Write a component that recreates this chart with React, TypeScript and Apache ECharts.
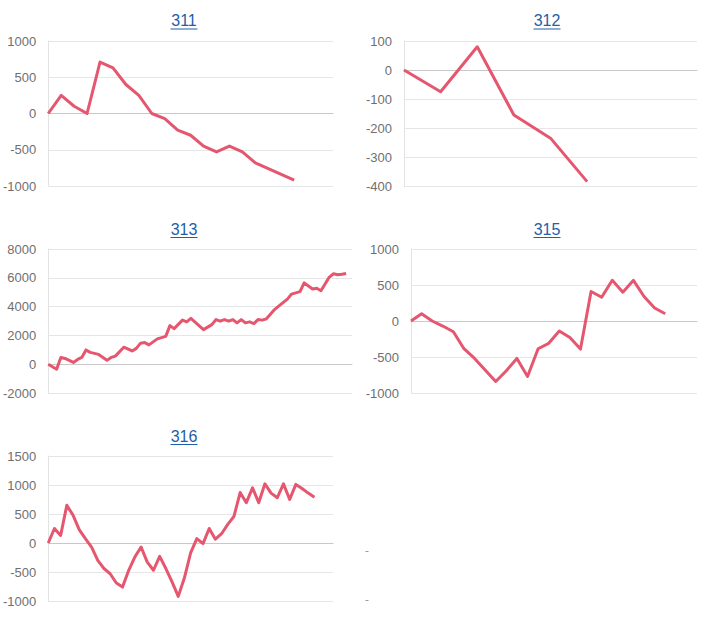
import React, { useEffect, useRef } from 'react';
import * as echarts from 'echarts';

const titles = ['311', '312', '313', '315', '316'];

const s311 = [0, 250, 100, 0, 710, 630, 400, 250, 0, -70, -230, -300, -450, -530, -450, -530, -680, -760, -840, -920];
const s312 = [0, -75, 80, -155, -235, -385];
const x313 = [0, 2, 3, 4, 6, 7, 8, 9, 10, 12, 14, 15, 16, 18, 20, 21, 22, 23, 24, 26, 28, 29, 30, 32, 33, 34, 37, 39, 40, 41, 42, 43, 44, 45, 46, 47, 48, 49, 50, 51, 52, 54, 55, 57, 58, 60, 61, 63, 64, 65, 67, 68, 69, 70, 71];
const y313 = [0, -350, 470, 400, 120, 330, 470, 990, 820, 680, 280, 470, 560, 1180, 920, 1100, 1460, 1500, 1340, 1760, 1930, 2680, 2470, 3060, 2940, 3180, 2400, 2750, 3100, 2990, 3100, 2990, 3100, 2870, 3100, 2870, 2940, 2820, 3100, 3060, 3150, 3810, 4050, 4520, 4870, 5040, 5650, 5220, 5270, 5100, 6050, 6280, 6210, 6240, 6300];
const s315 = [0, 100, 0, -70, -150, -385, -520, -680, -840, -690, -520, -770, -385, -310, -140, -230, -390, 410, 330, 565, 400, 565, 340, 180, 100];
const s316 = [0, 250, 130, 650, 480, 230, 75, -70, -300, -440, -530, -690, -760, -470, -240, -70, -330, -470, -230, -440, -670, -920, -600, -170, 75, -10, 250, 65, 160, 320, 460, 870, 695, 950, 695, 1020, 860, 780, 1020, 750, 1010, 940, 860, 790];

const yMin = [-1000, -400, -2000, -1000, -1000];
const yMax = [1000, 100, 8000, 1000, 1500];
const yStep = [500, 100, 2000, 500, 500];
const xSpan = [22, 8, 72.4, 27, 46];

const LINE = '#e5566f';
const FONT = '"Liberation Sans", Arial, sans-serif';

const toPairs = (vals: number[]) => vals.map((v, i) => [i, v]);

export default function App() {
  const ref = useRef<HTMLDivElement>(null);
  useEffect(() => {
    if (!ref.current) return;
    const chart = echarts.init(ref.current, undefined, { renderer: 'svg' });
    const layout = [
      { left: 48, top: 41, width: 285, height: 145, tx: 184, ty: 20.5 },
      { left: 404, top: 41, width: 293, height: 145, tx: 547, ty: 20.5 },
      { left: 48, top: 249, width: 304, height: 144, tx: 184, ty: 229 },
      { left: 411, top: 249, width: 286, height: 144, tx: 547, ty: 229 },
      { left: 48, top: 456, width: 285, height: 145, tx: 184, ty: 436 },
    ];
    const data = [
      toPairs(s311),
      toPairs(s312),
      x313.map((x, i) => [x, y313[i]]),
      toPairs(s315),
      toPairs(s316),
    ];
    const graphics: any[] = [];
    layout.forEach((l, i) => {
      graphics.push({
        type: 'text',
        x: l.tx,
        y: l.ty,
        style: {
          text: titles[i],
          fill: '#1f5ea8',
          font: `16px ${FONT}`,
          textAlign: 'center',
          textVerticalAlign: 'middle',
        },
      });
      graphics.push({
        type: 'line',
        shape: { x1: l.tx - 13.5, y1: l.ty + 8.5, x2: l.tx + 13.5, y2: l.ty + 8.5 },
        style: { stroke: '#1f5ea8', lineWidth: 1 },
      });
    });
    graphics.push({ type: 'rect', shape: { x: 365.5, y: 551, width: 3, height: 1 }, style: { fill: '#9a9a9a' } });
    graphics.push({ type: 'rect', shape: { x: 365.5, y: 600, width: 3, height: 1 }, style: { fill: '#9a9a9a' } });

    const option: any = {
      animation: false,
      backgroundColor: '#ffffff',
      grid: layout.map((l) => ({ left: l.left, top: l.top, width: l.width, height: l.height, containLabel: false })),
      xAxis: layout.map((_, i) => ({
        type: 'value',
        gridIndex: i,
        min: 0,
        max: xSpan[i],
        axisLabel: { show: false },
        axisTick: { show: false },
        splitLine: { show: false },
        axisLine: { show: true, onZero: true, lineStyle: { color: '#c8c8c8', width: 1 } },
      })),
      yAxis: layout.map((_, i) => ({
        type: 'value',
        gridIndex: i,
        min: yMin[i],
        max: yMax[i],
        interval: yStep[i],
        axisTick: { show: false },
        axisLine: { show: true, lineStyle: { color: '#e3e3e3', width: 1 } },
        splitLine: { show: true, lineStyle: { color: '#e6e6e6', width: 1 } },
        axisLabel: {
          color: '#6f6f6f',
          fontSize: 13,
          fontFamily: FONT,
          margin: 12,
          formatter: (v: number) => String(v),
        },
      })),
      series: data.map((d, i) => ({
        type: 'line',
        xAxisIndex: i,
        yAxisIndex: i,
        data: d,
        showSymbol: false,
        symbol: 'none',
        lineStyle: { color: LINE, width: 3, join: 'round' },
        itemStyle: { color: LINE },
      })),
      graphic: graphics,
    };
    chart.setOption(option);
    return () => chart.dispose();
  }, []);
  return <div ref={ref} style={{ position: 'absolute', left: 0, top: 0, width: 728, height: 621 }} />;
}
